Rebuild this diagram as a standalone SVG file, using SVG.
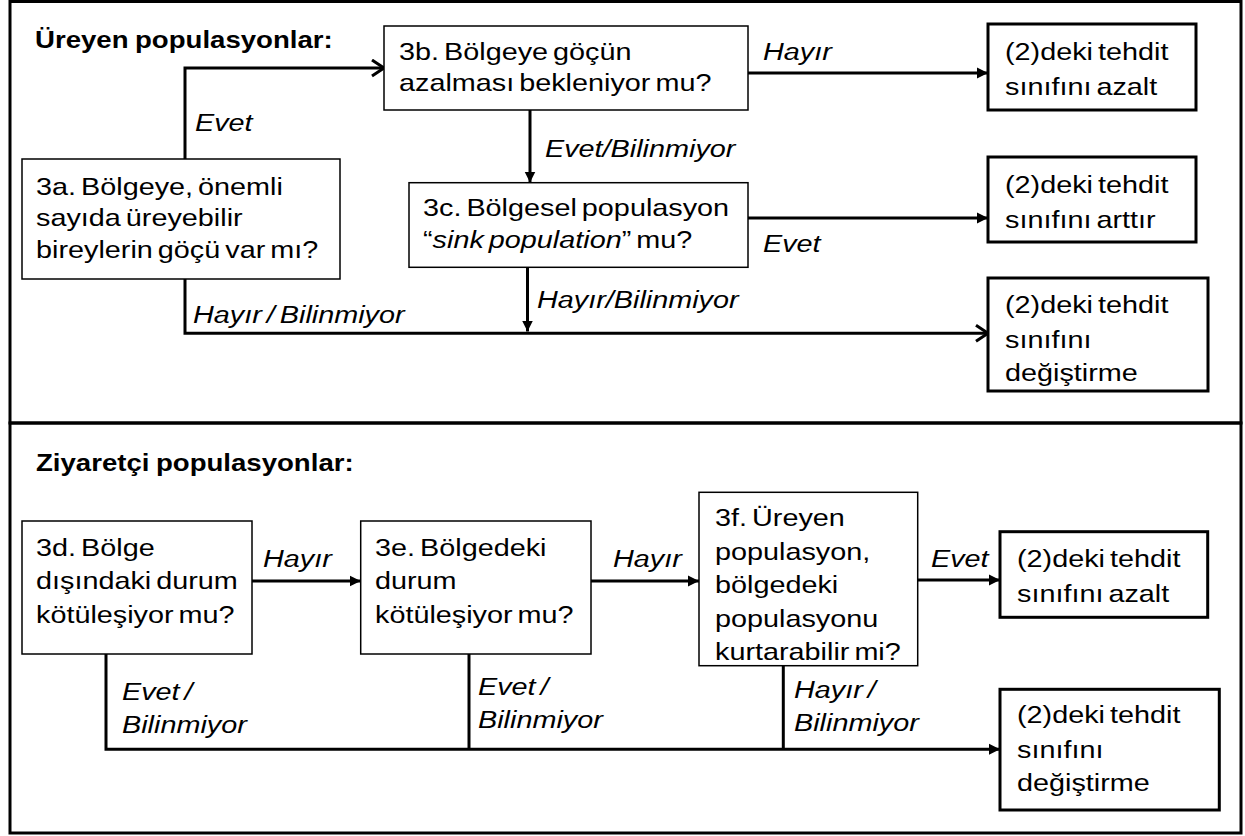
<svg xmlns="http://www.w3.org/2000/svg" width="1245" height="836" viewBox="0 0 1245 836">
<style>
.t{font-family:"Liberation Sans",Arial,Helvetica,sans-serif;font-size:24px;word-spacing:-2.5px;fill:#000}
.i{font-style:italic}
.h{font-weight:bold;font-size:23px;word-spacing:-1px}
.box{fill:#fff;stroke:#000;stroke-width:1.5}
.out{fill:#fff;stroke:#000;stroke-width:3}
.c{fill:none;stroke:#000;stroke-width:3}
.frame{fill:none;stroke:#000;stroke-width:3}
</style>
<defs>
<marker id="ah" markerUnits="userSpaceOnUse" markerWidth="12" markerHeight="12" refX="11" refY="6" orient="auto"><path d="M0,0.5 L11,6 L0,11.5 z" fill="#000"/></marker>
<marker id="oh" markerUnits="userSpaceOnUse" markerWidth="18" markerHeight="20" refX="13" refY="9" orient="auto"><path d="M1,1 L13,9 L1,17" fill="none" stroke="#000" stroke-width="3"/></marker>
</defs>
<rect width="1245" height="836" fill="#fff"/>
<g id="frames">
<rect class="frame" x="10" y="1.5" width="1231" height="421.5"/>
<rect class="frame" x="10" y="423" width="1231" height="410"/>
</g>
<text class="t h" transform="translate(35 0) scale(1.2 1)" x="0" y="48">Üreyen populasyonlar:</text>
<text class="t h" transform="translate(36 0) scale(1.2 1)" x="0" y="471">Ziyaretçi populasyonlar:</text>
<g id="connectors">
<path class="c" d="M185,159 V68 H384" marker-end="url(#oh)"/>
<path class="c" d="M748,73 H988" marker-end="url(#ah)"/>
<path class="c" d="M530,110 V182.5" marker-end="url(#ah)"/>
<path class="c" d="M748,218 H988" marker-end="url(#ah)"/>
<path class="c" d="M527.5,267 V331.5" marker-end="url(#ah)"/>
<path class="c" d="M185,279 V333.3 H988" marker-end="url(#oh)"/>
<path class="c" d="M252,581 H360.7" marker-end="url(#ah)"/>
<path class="c" d="M591,581 H699" marker-end="url(#ah)"/>
<path class="c" d="M917.7,580 H1000" marker-end="url(#ah)"/>
<path class="c" d="M106,654 V749.3 H1000" marker-end="url(#ah)"/>
<path class="c" d="M469,654 V749.3"/>
<path class="c" d="M783.3,665.7 V749.3"/>
<text class="t i" transform="translate(195 0) scale(1.2 1)" x="0" y="131">Evet</text>
<text class="t i" transform="translate(763 0) scale(1.2 1)" x="0" y="60">Hayır</text>
<text class="t i" transform="translate(545 0) scale(1.2 1)" x="0" y="157">Evet/Bilinmiyor</text>
<text class="t i" transform="translate(763 0) scale(1.2 1)" x="0" y="252">Evet</text>
<text class="t i" transform="translate(537 0) scale(1.2 1)" x="0" y="308">Hayır/Bilinmiyor</text>
<text class="t i" transform="translate(193 0) scale(1.2 1)" x="0" y="323">Hayır / Bilinmiyor</text>
<text class="t i" transform="translate(263 0) scale(1.2 1)" x="0" y="567">Hayır</text>
<text class="t i" transform="translate(613 0) scale(1.2 1)" x="0" y="567">Hayır</text>
<text class="t i" transform="translate(931 0) scale(1.2 1)" x="0" y="567">Evet</text>
<text class="t i" transform="translate(122 0) scale(1.2 1)"><tspan x="0" y="700">Evet /</tspan><tspan x="0" y="733">Bilinmiyor</tspan></text>
<text class="t i" transform="translate(478 0) scale(1.2 1)"><tspan x="0" y="695">Evet /</tspan><tspan x="0" y="728">Bilinmiyor</tspan></text>
<text class="t i" transform="translate(794 0) scale(1.2 1)"><tspan x="0" y="698">Hayır /</tspan><tspan x="0" y="731.5">Bilinmiyor</tspan></text>
</g>
<g id="n3a">
<rect class="box" x="22" y="159" width="318" height="120"/>
<text class="t" transform="translate(36 0) scale(1.2 1)"><tspan x="0" y="195">3a. Bölgeye, önemli</tspan><tspan x="0" y="226.5">sayıda üreyebilir</tspan><tspan x="0" y="258">bireylerin göçü var mı?</tspan></text>
</g>
<g id="n3b">
<rect class="box" x="384" y="26" width="364" height="84"/>
<text class="t" transform="translate(399 0) scale(1.2 1)"><tspan x="0" y="60">3b. Bölgeye göçün</tspan><tspan x="0" y="91.5">azalması bekleniyor mu?</tspan></text>
</g>
<g id="n3c">
<rect class="box" x="409" y="182.7" width="339" height="84.6"/>
<text class="t" transform="translate(423 0) scale(1.2 1)"><tspan x="0" y="216">3c. Bölgesel populasyon</tspan><tspan x="0" y="248">“<tspan class="i">sink population</tspan>” mu?</tspan></text>
</g>
<g id="o1">
<rect class="out" x="988" y="24" width="208" height="86"/>
<text class="t" transform="translate(1005 0) scale(1.2 1)"><tspan x="0" y="60">(2)deki tehdit</tspan><tspan x="0" y="95">sınıfını azalt</tspan></text>
</g>
<g id="o2">
<rect class="out" x="988" y="157" width="208" height="85"/>
<text class="t" transform="translate(1005 0) scale(1.2 1)"><tspan x="0" y="192.7">(2)deki tehdit</tspan><tspan x="0" y="227.7">sınıfını arttır</tspan></text>
</g>
<g id="o3">
<rect class="out" x="988" y="278" width="220" height="113"/>
<text class="t" transform="translate(1005 0) scale(1.2 1)"><tspan x="0" y="313.3">(2)deki tehdit</tspan><tspan x="0" y="348.3">sınıfını</tspan><tspan x="0" y="381">değiştirme</tspan></text>
</g>
<g id="n3d">
<rect class="box" x="22" y="521" width="230" height="133"/>
<text class="t" transform="translate(36 0) scale(1.2 1)"><tspan x="0" y="556">3d. Bölge</tspan><tspan x="0" y="589.5">dışındaki durum</tspan><tspan x="0" y="623">kötüleşiyor mu?</tspan></text>
</g>
<g id="n3e">
<rect class="box" x="360.7" y="521" width="230.3" height="133"/>
<text class="t" transform="translate(375 0) scale(1.2 1)"><tspan x="0" y="556">3e. Bölgedeki</tspan><tspan x="0" y="589.5">durum</tspan><tspan x="0" y="623">kötüleşiyor mu?</tspan></text>
</g>
<g id="n3f">
<rect class="box" x="699" y="492.3" width="218.7" height="173.4"/>
<text class="t" transform="translate(715 0) scale(1.2 1)"><tspan x="0" y="526">3f. Üreyen</tspan><tspan x="0" y="560">populasyon,</tspan><tspan x="0" y="593.3">bölgedeki</tspan><tspan x="0" y="626.7">populasyonu</tspan><tspan x="0" y="660.5">kurtarabilir mi?</tspan></text>
</g>
<g id="o4">
<rect class="out" x="1000" y="531.7" width="207.7" height="85.6"/>
<text class="t" transform="translate(1017 0) scale(1.2 1)"><tspan x="0" y="566.7">(2)deki tehdit</tspan><tspan x="0" y="601.7">sınıfını azalt</tspan></text>
</g>
<g id="o5">
<rect class="out" x="1000" y="689.3" width="219.3" height="120.7"/>
<text class="t" transform="translate(1017 0) scale(1.2 1)"><tspan x="0" y="723.3">(2)deki tehdit</tspan><tspan x="0" y="758.3">sınıfını</tspan><tspan x="0" y="790.7">değiştirme</tspan></text>
</g>
</svg>
